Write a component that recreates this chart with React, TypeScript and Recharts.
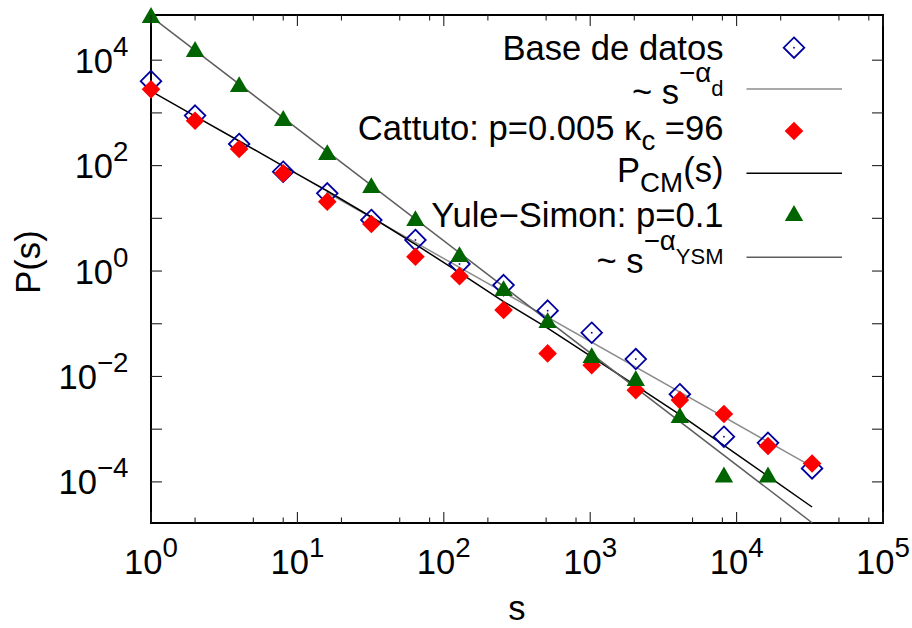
import { ComposedChart, XAxis, YAxis, Scatter, Line, ReferenceArea } from 'recharts';

// sizes s = 2^k
const S_VALUES = [1, 2, 4, 8, 16, 32, 64, 128, 256, 512, 1024, 2048, 4096, 8192, 16384, 32768];

// Base de datos (open blue diamonds)
const BASE_DATOS = [4000, 890, 257, 76.6, 29.8, 9.3, 3.88, 1.36, 0.542, 0.177, 0.0676, 0.0214, 0.0046, 0.00072, 0.00055, 0.00018];
// Cattuto: p=0.005, kc=96 (red diamonds)
const CATTUTO = [2800, 711, 207, 71.4, 20.7, 7.8, 1.87, 0.8, 0.182, 0.0274, 0.0164, 0.0055, 0.00356, 0.00194, 0.00048, 0.000224];
// Yule-Simon p=0.1 (green triangles), no point at the last size
const YULE_SIMON = [72000, 16300, 3530, 800, 181, 42.8, 10.1, 2.1, 0.475, 0.117, 0.0255, 0.0093, 0.00185, 0.000138, 0.000138];
// P_CM(s) curve
const P_CM = [2580, 869, 293, 98.2, 33.0, 10.6, 3.21, 0.933, 0.264, 0.0828, 0.0236, 0.00672, 0.00189, 0.000493, 0.000128, 0.0000334];
// power-law fits
const FIT_D_S = [16, 32768];
const FIT_D = [30.7, 0.000194];
const FIT_YSM_S = [1, 32768];
const FIT_YSM = [67000, 0.0000168];

const X_MAJOR = [1, 10, 100, 1000, 10000, 100000];
const X_MINOR_STEPS = [2, 5, 8];
const Y_EXPONENTS = [-4, -3, -2, -1, 0, 1, 2, 3, 4];

const X_DOMAIN = [1, 100000];
const Y_DOMAIN = [1.66e-5, 7.2e4];

const PLOT = { left: 151, right: 883, top: 15, bottom: 523 };
const FONT = '"Liberation Sans", Arial, Helvetica, sans-serif';
const FS = 34.6;
const SUP = 27.7;
const SUB2 = 22;

const BLUE = '#0000a0';
const RED = '#ff0000';
const GREEN = '#006400';
const GRAY_D = '#8c8c8c';
const GRAY_YSM = '#5e5e5e';

const toPoints = (s: number[], p: number[]) => p.map((v, i) => ({ s: s[i], p: v }));

const xTicks = [
  ...X_MAJOR,
  ...X_MAJOR.slice(0, -1).flatMap((m) => X_MINOR_STEPS.map((k) => m * k)),
];
const yTicks = Y_EXPONENTS.map((e) => Math.pow(10, e));

const fmtExp = (e: number) => (e < 0 ? '\u2212' + Math.abs(e) : String(e));

function OpenDiamond({ cx, cy }: { cx: number; cy: number }) {
  const r = 10.3;
  return (
    <g>
      <polygon
        points={`${cx},${cy - r} ${cx + r},${cy} ${cx},${cy + r} ${cx - r},${cy}`}
        fill="none"
        stroke={BLUE}
        strokeWidth={1.8}
      />
      <rect x={cx - 0.8} y={cy - 0.8} width={1.6} height={1.6} fill={BLUE} />
    </g>
  );
}

function RedDiamond({ cx, cy }: { cx: number; cy: number }) {
  const r = 9.3;
  return <polygon points={`${cx},${cy - r} ${cx + r},${cy} ${cx},${cy + r} ${cx - r},${cy}`} fill={RED} />;
}

function Triangle({ cx, cy }: { cx: number; cy: number }) {
  const w = 9.2;
  const h = 7.9;
  return <polygon points={`${cx},${cy - h} ${cx + w},${cy + h} ${cx - w},${cy + h}`} fill={GREEN} />;
}

function XTick(props: any) {
  const { x, payload } = props;
  const v = payload.value;
  const e = Math.log10(v);
  const major = Math.abs(e - Math.round(e)) < 1e-9;
  const len = major ? 11 : 5.5;
  return (
    <g>
      <line x1={x} x2={x} y1={PLOT.bottom} y2={PLOT.bottom - len} stroke="#222" strokeWidth={1.1} />
      <line x1={x} x2={x} y1={PLOT.top} y2={PLOT.top + len} stroke="#222" strokeWidth={1.1} />
      {major && (
        <text x={x} y={573.5} textAnchor="middle" fontFamily={FONT} fontSize={FS} fill="#000">
          10<tspan dy={-17} fontSize={SUP}>{fmtExp(Math.round(e))}</tspan>
        </text>
      )}
    </g>
  );
}

function YTick(props: any) {
  const { y, payload } = props;
  const e = Math.round(Math.log10(payload.value));
  return (
    <g>
      <line x1={PLOT.left} x2={PLOT.left + 11} y1={y} y2={y} stroke="#222" strokeWidth={1.1} />
      <line x1={PLOT.right} x2={PLOT.right - 11} y1={y} y2={y} stroke="#222" strokeWidth={1.1} />
      {e % 2 === 0 && (
        <text x={128.5} y={y + 12.5} textAnchor="end" fontFamily={FONT} fontSize={FS} fill="#000">
          10<tspan dy={-17} fontSize={SUP}>{fmtExp(e)}</tspan>
        </text>
      )}
    </g>
  );
}

function Overlay() {
  const tx = 723.5;
  const mx = 794;
  const l1 = 746.5;
  const l2 = 842;
  return (
    <svg
      width={912}
      height={628}
      style={{ position: 'absolute', left: 0, top: 0, pointerEvents: 'none' }}
      fontFamily={FONT}
      fontSize={FS}
    >
      <text x={40} y={262} textAnchor="middle" transform="rotate(-90 40 262)">P(s)</text>
      <text x={517} y={620} textAnchor="middle">s</text>

      <text x={tx} y={59.5} textAnchor="end">Base de datos</text>
      <OpenDiamond cx={mx} cy={47.7} />

      <text x={tx} y={103.5} textAnchor="end">
        ~ s<tspan dy={-22} fontSize={SUP}>{'\u2212\u03b1'}</tspan>
        <tspan dy={14} fontSize={SUB2}>d</tspan>
      </text>
      <line x1={l1} x2={l2} y1={89} y2={89} stroke={GRAY_D} strokeWidth={1.6} />

      <text x={tx} y={139.5} textAnchor="end">
        Cattuto: p=0.005 {'\u03ba'}
        <tspan dy={10.7} fontSize={SUP}>c</tspan>
        <tspan dy={-10.7}> =96</tspan>
      </text>
      <RedDiamond cx={mx} cy={131} />

      <text x={tx} y={181.5} textAnchor="end">
        P<tspan dy={10} fontSize={SUP}>CM</tspan>
        <tspan dy={-10}>(s)</tspan>
      </text>
      <line x1={l1} x2={l2} y1={173.3} y2={173.3} stroke="#000" strokeWidth={1.6} />

      <text x={tx} y={226.5} textAnchor="end">Yule{'\u2212'}Simon: p=0.1</text>
      <Triangle cx={mx} cy={213} />

      <text x={tx} y={272.5} textAnchor="end">
        ~ s<tspan dy={-22.5} fontSize={SUP}>{'\u2212\u03b1'}</tspan>
        <tspan dy={13.5} fontSize={SUB2}>YSM</tspan>
      </text>
      <line x1={l1} x2={l2} y1={257.3} y2={257.3} stroke={GRAY_YSM} strokeWidth={1.6} />
    </svg>
  );
}

export default function App() {
  return (
    <div style={{ position: 'absolute', left: 0, top: 0, width: 912, height: 628, background: '#fff' }}>
      <ComposedChart
        width={912}
        height={628}
        margin={{ top: PLOT.top, right: 912 - PLOT.right, bottom: 0, left: 0 }}
      >
        <XAxis
          type="number"
          dataKey="s"
          scale="log"
          domain={X_DOMAIN}
          ticks={xTicks}
          interval={0}
          height={628 - PLOT.bottom}
          axisLine={false}
          tickLine={false}
          tick={<XTick />}
        />
        <YAxis
          type="number"
          dataKey="p"
          scale="log"
          domain={Y_DOMAIN}
          ticks={yTicks}
          interval={0}
          width={PLOT.left}
          axisLine={false}
          tickLine={false}
          tick={<YTick />}
        />
        <ReferenceArea
          x1={X_DOMAIN[0]}
          x2={X_DOMAIN[1]}
          y1={Y_DOMAIN[0]}
          y2={Y_DOMAIN[1]}
          fill="none"
          fillOpacity={0}
          stroke="#000"
          strokeWidth={2}
          ifOverflow="visible"
        />
        <Scatter
          data={toPoints(S_VALUES, BASE_DATOS)}
          isAnimationActive={false}
          shape={(p: any) => <OpenDiamond cx={p.cx} cy={p.cy} />}
        />
        <Line
          data={toPoints(FIT_D_S, FIT_D)}
          dataKey="p"
          type="linear"
          stroke={GRAY_D}
          strokeWidth={1.5}
          dot={false}
          activeDot={false}
          isAnimationActive={false}
        />
        <Scatter
          data={toPoints(S_VALUES, CATTUTO)}
          isAnimationActive={false}
          shape={(p: any) => <RedDiamond cx={p.cx} cy={p.cy} />}
        />
        <Line
          data={toPoints(S_VALUES, P_CM)}
          dataKey="p"
          type="linear"
          stroke="#000"
          strokeWidth={1.5}
          dot={false}
          activeDot={false}
          isAnimationActive={false}
        />
        <Scatter
          data={toPoints(S_VALUES, YULE_SIMON)}
          isAnimationActive={false}
          shape={(p: any) => <Triangle cx={p.cx} cy={p.cy} />}
        />
        <Line
          data={toPoints(FIT_YSM_S, FIT_YSM)}
          dataKey="p"
          type="linear"
          stroke={GRAY_YSM}
          strokeWidth={1.5}
          dot={false}
          activeDot={false}
          isAnimationActive={false}
        />
      </ComposedChart>
      <Overlay />
    </div>
  );
}
